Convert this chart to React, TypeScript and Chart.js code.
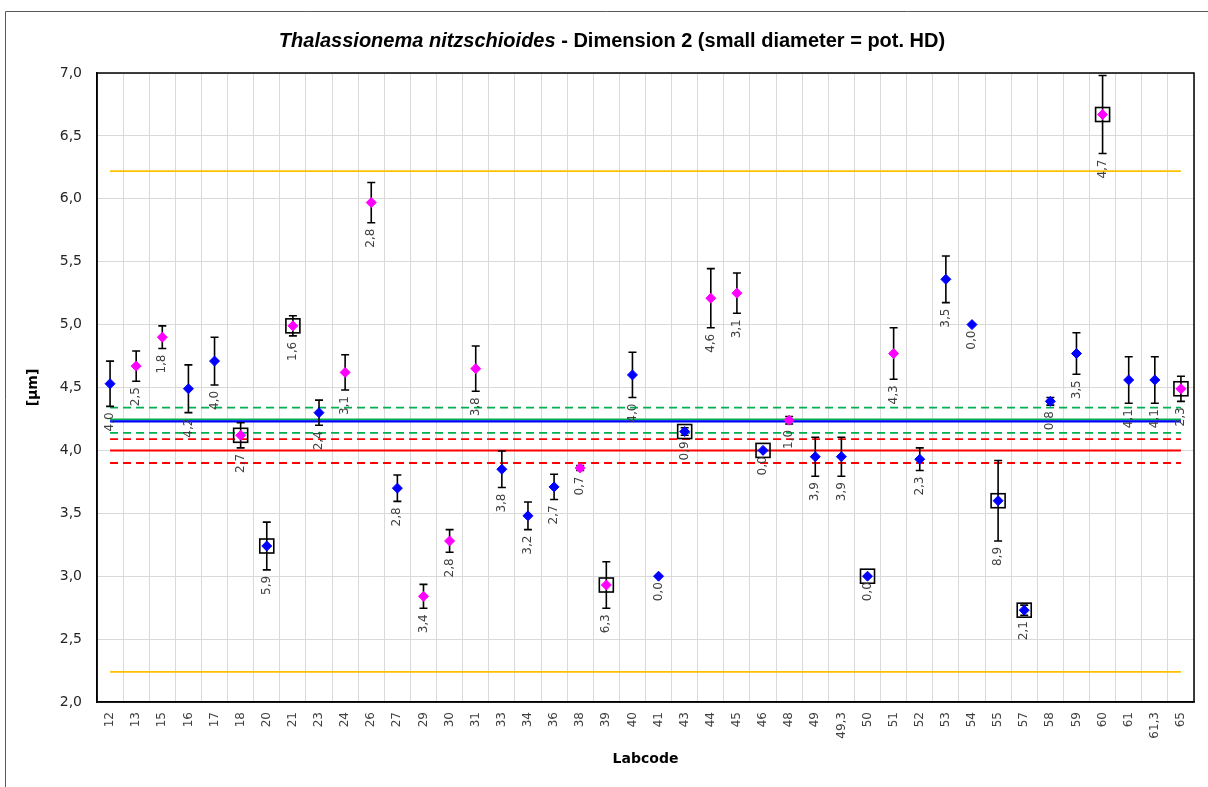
import React, { useEffect, useRef } from 'react';
import { Chart, registerables } from 'chart.js';

Chart.register(...registerables);

// ---------- data ----------
const labcodes = ['12', '13', '15', '16', '17', '18', '20', '21', '23', '24', '26', '27', '29', '30', '31', '33', '34', '36', '38', '39', '40', '41', '43', '44', '45', '46', '48', '49', '49,3', '50', '51', '52', '53', '54', '55', '57', '58', '59', '60', '61', '61,3', '65'];
const values = [4.53, 4.67, 4.90, 4.49, 4.71, 4.12, 3.24, 4.99, 4.30, 4.62, 5.97, 3.70, 2.84, 3.28, 4.65, 3.85, 3.48, 3.71, 3.86, 2.93, 4.60, 3.00, 4.15, 5.21, 5.25, 4.00, 4.24, 3.95, 3.95, 3.00, 4.77, 3.93, 5.36, 5.00, 3.60, 2.73, 4.39, 4.77, 6.67, 4.56, 4.56, 4.49];
const uncertainties = [0.18, 0.12, 0.09, 0.19, 0.19, 0.10, 0.19, 0.08, 0.10, 0.14, 0.16, 0.105, 0.095, 0.09, 0.18, 0.145, 0.11, 0.10, 0.02, 0.185, 0.18, 0, 0.03, 0.235, 0.16, 0, 0.03, 0.155, 0.155, 0, 0.205, 0.09, 0.185, 0, 0.32, 0.04, 0.03, 0.165, 0.31, 0.185, 0.185, 0.10];
const pointLabels = ['4,0', '2,5', '1,8', '4,2', '4,0', '2,7', '5,9', '1,6', '2,4', '3,1', '2,8', '2,8', '3,4', '2,8', '3,8', '3,8', '3,2', '2,7', '0,7', '6,3', '4,0', '0,0', '0,9', '4,6', '3,1', '0,0', '1,0', '3,9', '3,9', '0,0', '4,3', '2,3', '3,5', '0,0', '8,9', '2,1', '0,8', '3,5', '4,7', '4,1', '4,1', '2,3'];
const pointGroups = ['b', 'm', 'm', 'b', 'b', 'm', 'b', 'm', 'b', 'm', 'm', 'b', 'm', 'm', 'm', 'b', 'b', 'b', 'm', 'm', 'b', 'b', 'b', 'm', 'm', 'b', 'm', 'b', 'b', 'b', 'm', 'b', 'b', 'b', 'b', 'b', 'b', 'b', 'm', 'b', 'b', 'm'];
const boxedLabcodes = ['18', '20', '21', '39', '43', '46', '50', '55', '57', '60', '65'];

const limitUpper = 6.22;
const limitLower = 2.24;
const assignedValue = 4.0;
const assignedUpper = 4.09;
const assignedLower = 3.90;
const meanGreen = 4.245;
const meanGreenUpper = 4.34;
const meanGreenLower = 4.14;
const meanBlue = 4.23;

const yTickFormat = (v: number) => v.toFixed(1).replace('.', ',');

// ---------- helpers ----------
const hLine = (v: number) => [
  { x: labcodes[0], y: v },
  { x: labcodes[labcodes.length - 1], y: v },
];

const lineDs = (label: string, v: number, color: string, width: number, dash: number[] = []) => ({
  label,
  data: hLine(v),
  borderColor: color,
  backgroundColor: color,
  borderWidth: width,
  borderDash: dash,
  pointRadius: 0,
  pointHoverRadius: 0,
  showLine: true,
  order: 5,
});

const pointsFor = (g: string) =>
  labcodes
    .map((c, i) => (pointGroups[i] === g ? { x: c, y: values[i] } : null))
    .filter((p) => p !== null);

const overlayPlugin = {
  id: 'overlay',
  beforeDraw(chart: any) {
    chart.$ebDone = false;
    const ctx = chart.ctx;
    ctx.save();
    ctx.strokeStyle = '#595959';
    ctx.lineWidth = 1;
    ctx.beginPath();
    ctx.moveTo(5.5, chart.height);
    ctx.lineTo(5.5, 11.5);
    ctx.lineTo(chart.width, 11.5);
    ctx.stroke();
    ctx.restore();
  },
  beforeDatasetsDraw(chart: any) {
    const { ctx, chartArea: a } = chart;
    ctx.save();
    ctx.strokeStyle = '#000';
    ctx.lineWidth = 1.5;
    ctx.strokeRect(a.left, a.top, a.right - a.left, a.bottom - a.top);
    ctx.restore();
  },
  beforeDatasetDraw(chart: any, args: any) {
    const ds = chart.data.datasets[args.index];
    if (!ds.isMeasurement || chart.$ebDone) return;
    chart.$ebDone = true;
    const ctx = chart.ctx;
    const xs = chart.scales.x;
    const ys = chart.scales.y;
    ctx.save();
    ctx.strokeStyle = '#000';
    ctx.lineWidth = 1.6;
    labcodes.forEach((c, i) => {
      const x = xs.getPixelForValue(i);
      const u = uncertainties[i];
      if (u > 0) {
        const yt = ys.getPixelForValue(values[i] + u);
        const yb = ys.getPixelForValue(values[i] - u);
        ctx.beginPath();
        ctx.moveTo(x, yt);
        ctx.lineTo(x, yb);
        ctx.moveTo(x - 4, yt);
        ctx.lineTo(x + 4, yt);
        ctx.moveTo(x - 4, yb);
        ctx.lineTo(x + 4, yb);
        ctx.stroke();
      }
      if (boxedLabcodes.includes(c)) {
        const y = ys.getPixelForValue(values[i]);
        ctx.strokeRect(x - 7, y - 7, 14, 14);
      }
    });
    ctx.restore();
  },
  afterDatasetsDraw(chart: any) {
    const ctx = chart.ctx;
    const xs = chart.scales.x;
    const ys = chart.scales.y;
    ctx.save();
    ctx.fillStyle = '#404040';
    ctx.font = '12px "DejaVu Sans"';
    ctx.textAlign = 'right';
    ctx.textBaseline = 'middle';
    labcodes.forEach((c, i) => {
      const x = xs.getPixelForValue(i);
      const yb = ys.getPixelForValue(values[i] - uncertainties[i]);
      const anchor = yb + 6;
      ctx.save();
      ctx.translate(x, anchor);
      ctx.rotate(-Math.PI / 2);
      ctx.fillText(pointLabels[i], 0, 0);
      ctx.restore();
    });
    ctx.restore();
  },
};

export default function App() {
  const canvasRef = useRef<HTMLCanvasElement | null>(null);

  useEffect(() => {
    const canvas = canvasRef.current;
    if (!canvas) return;
    const chart = new Chart(canvas, {
      type: 'line',
      data: {
        labels: labcodes,
        datasets: [
          {
            label: 'Labs (blue)',
            data: pointsFor('b') as any,
            isMeasurement: true,
            showLine: false,
            pointStyle: 'rectRot',
            pointRadius: 5,
            pointBackgroundColor: '#0000FF',
            pointBorderColor: '#0000FF',
            pointBorderWidth: 1,
            order: 0,
          } as any,
          {
            label: 'Labs (magenta)',
            data: pointsFor('m') as any,
            isMeasurement: true,
            showLine: false,
            pointStyle: 'rectRot',
            pointRadius: 5,
            pointBackgroundColor: '#FF00FF',
            pointBorderColor: '#FF00FF',
            pointBorderWidth: 1,
            order: 0,
          } as any,
          lineDs('upper limit', limitUpper, '#FFC000', 1.8),
          lineDs('lower limit', limitLower, '#FFC000', 1.8),
          lineDs('assigned upper', assignedUpper, '#FF0000', 1.8, [8, 5]),
          lineDs('assigned lower', assignedLower, '#FF0000', 1.8, [8, 5]),
          lineDs('assigned value', assignedValue, '#FF0000', 2),
          lineDs('mean upper', meanGreenUpper, '#00B050', 1.8, [8, 5]),
          lineDs('mean lower', meanGreenLower, '#00B050', 1.8, [8, 5]),
          lineDs('blue mean', meanBlue, '#0000FF', 2.2),
          lineDs('green mean', meanGreen, '#00B050', 2),
        ],
      },
      options: {
        responsive: false,
        animation: false,
        events: [],
        layout: { padding: { left: 20, right: 14, top: 73, bottom: 10 } },
        plugins: {
          legend: { display: false },
          tooltip: { enabled: false },
          title: { display: false },
        },
        scales: {
          x: {
            type: 'category',
            labels: labcodes,
            offset: true,
            grid: { offset: true, color: '#d9d9d9', lineWidth: 1, drawTicks: false },
            border: { color: '#000', width: 1.5 },
            ticks: {
              autoSkip: false,
              maxRotation: 90,
              minRotation: 90,
              padding: 10,
              color: '#404040',
              font: { family: 'DejaVu Sans', size: 12 },
            },
            title: {
              display: true,
              text: 'Labcode',
              color: '#000',
              font: { family: 'DejaVu Sans', size: 14, weight: 'bold' },
              padding: { top: 0, bottom: 9 },
            },
            afterFit: (s: any) => {
              s.height = 75;
            },
          } as any,
          y: {
            min: 2,
            max: 7,
            grid: { color: '#d9d9d9', lineWidth: 1, drawTicks: false },
            border: { color: '#000', width: 1.5 },
            ticks: {
              stepSize: 0.5,
              padding: 15,
              color: '#262626',
              font: { family: 'DejaVu Sans', size: 14 },
              callback: (v: any) => yTickFormat(Number(v)),
            },
            title: {
              display: true,
              text: '[µm]',
              color: '#000',
              font: { family: 'DejaVu Sans', size: 14, weight: 'bold' },
              padding: { top: 5, bottom: 0 },
            },
            afterFit: (s: any) => {
              s.width = 77;
            },
          } as any,
        },
      },
      plugins: [overlayPlugin as any],
    });
    return () => chart.destroy();
  }, []);

  return (
    <div style={{ position: 'fixed', left: 0, top: 0, width: 1208, height: 787, background: '#fff', overflow: 'hidden' }}>
      <canvas ref={canvasRef} width={1208} height={787} style={{ display: 'block', width: 1208, height: 787 }} />
      <div
        style={{
          position: 'absolute',
          left: 8,
          top: 28,
          width: 1208,
          textAlign: 'center',
          font: 'bold 20px "Liberation Sans", Arial, sans-serif',
          lineHeight: '24px',
          color: '#000',
          whiteSpace: 'nowrap',
        }}
      >
        <i>Thalassionema nitzschioides</i> - Dimension 2 (small diameter = pot. HD)
      </div>
    </div>
  );
}
